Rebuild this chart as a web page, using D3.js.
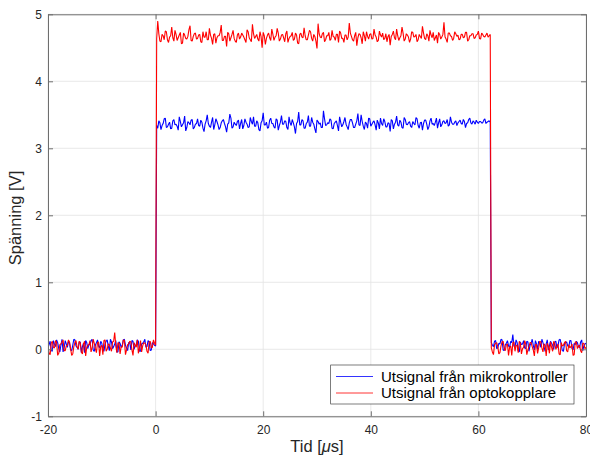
<!DOCTYPE html>
<html><head><meta charset="utf-8">
<script src="https://cdn.jsdelivr.net/npm/d3@7"></script>
<style>body{margin:0;background:#fff}svg{display:block}text{font-family:"Liberation Sans",Arial,Helvetica,sans-serif}</style>
</head><body><svg id="c" width="590" height="455"></svg>
<script>
const startTime = -20;     // µs, first sample
const sampleStep = 0.2;    // µs between samples
const xTicks = [-20, 0, 20, 40, 60, 80];
const yTicks = [-1, 0, 1, 2, 3, 4, 5];
const seriesNames = ["Utsignal från mikrokontroller", "Utsignal från optokopplare"];
const seriesColors = ["#0000ff", "#ff0000"];

// Mikrokontroller (blue). "A" arrays: samples at even steps, "B" arrays: the samples in between.
const blueLow1A = [0.02,0.12,-0.03,0.08,0.14,0.01,0.06,-0.04,0.13,0.03,0.09,-0.02,0.15,0.05,0.00,0.11,0.04,-0.05,0.10,0.07,0.13,-0.01,0.06,0.14,0.02,0.09,-0.03,0.12,0.05,0.15,0.01,0.08,-0.04,0.11,0.03,0.14,0.06,-0.02,0.10,0.13,0.00,0.07,0.12,-0.03,0.09,0.15,0.04,0.11,-0.01,0.08,0.05];
const blueLow1B = [0.07,-0.02,0.13,0.04,0.10,-0.04,0.15,0.02,0.08,0.12,-0.01,0.06,0.14,0.03,0.11,-0.05,0.09,0.13,0.01,0.07,0.15,-0.03,0.10,0.05,0.12,0.00,0.08,0.14,-0.02,0.11,0.04,0.13,-0.04,0.09,0.06,0.15,0.02,0.10,-0.01,0.12,0.05,0.14,-0.03,0.08,0.11,0.03,0.13,-0.02,0.10,0.06];
const blueHighB = [3.34,3.41,3.28,3.37,3.45,3.32,3.39,3.30,3.43,3.36,3.27,3.40,3.35,3.48,3.31,3.38,3.42,3.29,3.36,3.44,
3.33,3.39,3.25,3.41,3.37,3.31,3.46,3.35,3.40,3.28,3.38,3.43,3.32,3.36,3.51,3.30,3.39,3.34,3.42,3.37,
3.29,3.44,3.36,3.32,3.40,3.47,3.33,3.38,3.26,3.41,3.35,3.39,3.31,3.45,3.37,3.30,3.42,3.34,3.49,3.36,
3.40,3.28,3.38,3.43,3.32,3.37,3.54,3.35,3.41,3.30,3.39,3.33,3.46,3.36,3.23,3.40,3.38,3.31,3.44,3.35,
3.37,3.42,3.29,3.39,3.34,3.47,3.32,3.40,3.36,3.28,3.43,3.38,3.31,3.41,3.35,3.50,3.33,3.39,3.30,3.44,
3.36,3.41,3.27,3.38,3.45,3.34,3.40,3.32,3.37,3.43,3.29,3.39,3.35,3.42,3.31,3.46,3.36,3.38,3.33,3.40,
3.35,3.44,3.30,3.39,3.37,3.42,3.28,3.41,3.36,3.34,3.45,3.38,3.32,3.40,3.37,3.43,3.35,3.39,3.36,3.41,
3.38,3.42,3.36,3.40,3.37,3.43,3.38,3.41,3.36,3.39,3.40,3.38,3.42,3.37,3.40,3.39];
const blueHighA = [3.30,3.38,3.34,3.44,3.31,3.36,3.29,3.41,3.35,3.33,3.47,3.32,3.38,3.26,3.40,3.35,3.43,3.31,3.37,3.34,
3.42,3.30,3.36,3.50,3.33,3.39,3.28,3.44,3.35,3.31,3.41,3.37,3.24,3.38,3.45,3.32,3.36,3.40,3.29,3.43,
3.34,3.39,3.31,3.46,3.36,3.33,3.41,3.28,3.38,3.53,3.35,3.30,3.42,3.37,3.32,3.44,3.27,3.39,3.36,3.41,
3.31,3.47,3.34,3.38,3.22,3.40,3.35,3.43,3.30,3.37,3.49,3.33,3.39,3.29,3.42,3.36,3.31,3.56,3.34,3.38,
3.44,3.30,3.37,3.41,3.26,3.39,3.35,3.46,3.32,3.38,3.43,3.31,3.36,3.52,3.34,3.40,3.28,3.37,3.45,3.33,
3.39,3.35,3.42,3.29,3.37,3.44,3.32,3.38,3.25,3.41,3.36,3.48,3.33,3.39,3.30,3.43,3.35,3.40,3.31,3.37,
3.46,3.34,3.38,3.27,3.42,3.36,3.32,3.45,3.37,3.39,3.30,3.44,3.35,3.41,3.38,3.33,3.47,3.36,3.39,3.34,
3.40,3.37,3.43,3.31,3.38,3.45,3.36,3.39,3.42,3.37,3.40,3.38,3.44,3.39,3.41];
const blueLow2A = [0.10,0.04,0.13,0.02,0.08,0.14,-0.02,0.09,0.05,0.12,0.22,0.03,0.10,-0.04,0.07,0.13,0.01,0.11,0.06,0.15,-0.01,0.08,0.12,0.03,0.10,-0.03,0.14,0.05,0.09,0.00,0.12,0.06,0.15,-0.02,0.08,0.11,0.04,0.13,-0.01,0.07,0.10,0.02,0.14,0.05,0.09];
const blueLow2B = [0.06,0.12,0.01,0.09,0.15,-0.01,0.07,0.13,0.03,0.10,0.05,0.14,-0.02,0.11,0.08,0.02,0.12,-0.03,0.09,0.06,0.13,0.00,0.10,0.15,0.04,0.08,-0.01,0.12,0.06,0.11,0.02,0.14,0.07,-0.03,0.10,0.05,0.13,0.01,0.09,0.12,0.04,0.11,-0.02,0.08];

// Optokopplare (red)
const redLow1A = [0.05,-0.08,0.12,0.02,0.10,-0.06,0.08,0.14,-0.02,0.06,0.11,-0.09,0.04,0.13,0.00,0.09,-0.07,0.12,0.03,0.07,-0.04,0.15,0.01,0.10,-0.10,0.06,0.13,-0.03,0.08,0.02,0.11,0.25,-0.05,0.09,0.04,0.14,-0.08,0.07,0.12,-0.01,0.10,0.03,-0.06,0.13,0.05,0.09,-0.03,0.11,0.02,0.14,0.06];
const redLow1B = [-0.06,0.09,0.03,0.13,-0.09,0.07,0.11,-0.02,0.05,0.14,0.01,-0.07,0.10,0.04,0.12,-0.04,0.08,-0.10,0.06,0.13,0.02,0.09,-0.05,0.11,0.04,-0.08,0.14,0.00,0.07,-0.03,0.12,0.05,0.10,-0.07,0.03,0.13,-0.01,0.08,0.11,-0.09,0.06,0.14,0.02,-0.04,0.10,0.07,-0.06,0.12,0.03,0.09];
const redHighB = [4.64,4.71,4.59,4.68,4.75,4.62,4.66,4.81,4.60,4.70,4.65,4.73,4.57,4.69,4.63,4.77,4.61,4.67,4.72,4.64,
4.70,4.58,4.66,4.74,4.62,4.69,4.55,4.71,4.65,4.68,4.84,4.61,4.67,4.73,4.60,4.70,4.64,4.58,4.72,4.66,
4.69,4.62,4.77,4.65,4.59,4.71,4.67,4.63,4.74,4.50,4.68,4.64,4.72,4.61,4.70,4.66,4.79,4.60,4.69,4.65,
4.71,4.58,4.67,4.73,4.63,4.69,4.56,4.72,4.65,4.68,4.62,4.76,4.64,4.70,4.60,4.86,4.66,4.71,4.59,4.68,
4.73,4.63,4.67,4.61,4.70,4.75,4.64,4.58,4.69,4.66,4.72,4.62,4.68,4.53,4.71,4.65,4.74,4.60,4.67,4.70,
4.63,4.78,4.66,4.61,4.69,4.72,4.64,4.59,4.70,4.67,4.75,4.62,4.68,4.65,4.81,4.60,4.71,4.66,4.63,4.73,
4.67,4.59,4.70,4.64,4.72,4.62,4.68,4.76,4.65,4.61,4.69,4.73,4.63,4.70,4.66,4.58,4.72,4.67,4.64,4.71,
4.69,4.63,4.70,4.66,4.73,4.62,4.68,4.71,4.65,4.70,4.64,4.72,4.67,4.69,4.66,4.70];
const redHighA = [4.90,4.60,4.70,4.62,4.74,4.58,4.68,4.65,4.76,4.61,4.69,4.56,4.72,4.64,4.67,4.83,4.60,4.71,4.63,4.69,
4.59,4.74,4.66,4.62,4.79,4.64,4.70,4.57,4.68,4.73,4.61,4.67,4.52,4.71,4.65,4.76,4.60,4.69,4.63,4.72,
4.66,4.58,4.74,4.62,4.85,4.64,4.70,4.60,4.67,4.73,4.55,4.69,4.65,4.78,4.61,4.68,4.72,4.63,4.70,4.59,
4.75,4.64,4.68,4.61,4.72,4.57,4.70,4.66,4.80,4.62,4.69,4.74,4.60,4.67,4.49,4.71,4.65,4.73,4.62,4.68,
4.61,4.76,4.66,4.70,4.58,4.72,4.64,4.69,4.62,4.87,4.67,4.60,4.73,4.65,4.70,4.56,4.68,4.74,4.63,4.71,
4.64,4.69,4.59,4.75,4.66,4.62,4.71,4.67,4.54,4.70,4.65,4.78,4.61,4.68,4.72,4.63,4.69,4.58,4.74,4.66,
4.70,4.62,4.67,4.82,4.64,4.71,4.60,4.69,4.73,4.65,4.57,4.70,4.66,4.88,4.63,4.72,4.68,4.61,4.74,4.67,
4.62,4.70,4.65,4.73,4.60,4.68,4.71,4.64,4.69,4.75,4.63,4.70,4.66,4.72,4.68];
const redLow2A = [0.02,-0.08,0.09,0.04,-0.05,0.11,0.01,0.07,-0.09,0.05,0.10,-0.03,0.06,0.12,-0.07,0.03,0.08,-0.01,0.10,0.04,-0.10,0.07,0.02,0.11,-0.04,0.06,0.09,-0.06,0.03,0.12,0.00,0.08,-0.08,0.05,0.10,-0.02,0.07,0.04,-0.09,0.11,0.01,0.06,-0.05,0.09,0.03];
const redLow2B = [-0.04,0.07,0.10,-0.07,0.05,0.12,-0.02,0.08,0.03,-0.09,0.11,0.06,-0.05,0.09,0.01,0.13,-0.08,0.04,0.10,-0.01,0.07,-0.06,0.12,0.02,0.08,-0.10,0.05,0.11,-0.03,0.09,0.04,-0.07,0.10,0.06,0.12,-0.04,0.02,0.08,-0.08,0.11,0.05,-0.02,0.09,0.01];

// merge alternating samples (a0, b0, a1, b1, ...)
function alternate(a, b) {
  const out = [];
  for (let i = 0; i < Math.max(a.length, b.length); i++) {
    if (i < a.length) out.push(a[i]);
    if (i < b.length) out.push(b[i]);
  }
  return out;
}
const blueValues = alternate(blueLow1A, blueLow1B).concat(alternate(blueHighB, blueHighA), alternate(blueLow2A, blueLow2B));
const redValues = alternate(redLow1A, redLow1B).concat(alternate(redHighB, redHighA), alternate(redLow2A, redLow2B));
const series = [blueValues, redValues].map(vals => vals.map((v, i) => ({t: startTime + i * sampleStep, v})));

const svg = d3.select("#c");
const L = 48, R = 586, T = 14.3, B = 416.3;
const x = d3.scaleLinear().domain([-20, 80]).range([L, R]);
const y = d3.scaleLinear().domain([-1, 5]).range([B, T]);

// grid
const g = svg.append("g");
g.selectAll(".gx").data(xTicks).join("line").attr("x1", d => x(d)).attr("x2", d => x(d)).attr("y1", T).attr("y2", B).attr("stroke", "#e3e3e3").attr("stroke-width", 0.8);
g.selectAll(".gy").data(yTicks).join("line").attr("y1", d => y(d)).attr("y2", d => y(d)).attr("x1", L).attr("x2", R).attr("stroke", "#e3e3e3").attr("stroke-width", 0.8);

// lines
const line = d3.line().x(d => x(d.t)).y(d => y(d.v));
svg.append("clipPath").attr("id", "clp").append("rect").attr("x", L).attr("y", T).attr("width", R - L).attr("height", B - T);
series.forEach((s, i) => {
  svg.append("path").datum(s).attr("d", line).attr("fill", "none").attr("stroke", seriesColors[i]).attr("stroke-width", 1.1).attr("stroke-linejoin", "bevel").attr("clip-path", "url(#clp)");
});

// axes (box with inward ticks)
const axCol = "#262626";
const fmt = d => String(d);
const axBottom = svg.append("g").attr("transform", `translate(0,${B})`).call(d3.axisBottom(x).tickValues(xTicks).tickFormat(fmt).tickSizeInner(-5).tickSizeOuter(0).tickPadding(9));
const axTop = svg.append("g").attr("transform", `translate(0,${T})`).call(d3.axisTop(x).tickValues(xTicks).tickSizeInner(-5).tickSizeOuter(0).tickFormat(""));
const axLeft = svg.append("g").attr("transform", `translate(${L},0)`).call(d3.axisLeft(y).tickValues(yTicks).tickFormat(fmt).tickSizeInner(-5).tickSizeOuter(0).tickPadding(6));
const axRight = svg.append("g").attr("transform", `translate(${R},0)`).call(d3.axisRight(y).tickValues(yTicks).tickSizeInner(-5).tickSizeOuter(0).tickFormat(""));
[axBottom, axTop, axLeft, axRight].forEach(a => {
  a.select(".domain").attr("stroke", "#6e6e6e").attr("stroke-width", 1);
  a.selectAll(".tick line").attr("stroke", "#6e6e6e");
  a.selectAll("text").attr("fill", axCol).style("font-size", "12px").style("font-family", '"Liberation Sans",Arial,sans-serif');
});
axBottom.selectAll(".tick text").attr("dy", "0.71em");

// axis labels
svg.append("text").attr("x", x(30)).attr("y", 451.5).attr("text-anchor", "middle").attr("fill", axCol).style("font-size", "16.5px")
  .html('Tid [<tspan font-style="italic">μ</tspan>s]');
svg.append("text").attr("transform", `translate(21,218) rotate(-90)`).attr("text-anchor", "middle").attr("fill", axCol).style("font-size", "16.5px").text("Spänning [V]");

// legend
const lg = svg.append("g");
lg.append("rect").attr("x", 330.7).attr("y", 365).attr("width", 243.3).attr("height", 39).attr("fill", "#fff").attr("stroke", axCol).attr("stroke-width", 0.6);
seriesNames.forEach((n, i) => {
  const yy = 376.5 + i * 16.5;
  lg.append("line").attr("x1", 336).attr("x2", 373).attr("y1", yy).attr("y2", yy).attr("stroke", seriesColors[i]).attr("stroke-width", 0.8);
  lg.append("text").attr("x", 381).attr("y", yy).attr("dy", "0.35em").attr("fill", "#000").style("font-size", "15px").text(n);
});
</script></body></html>
